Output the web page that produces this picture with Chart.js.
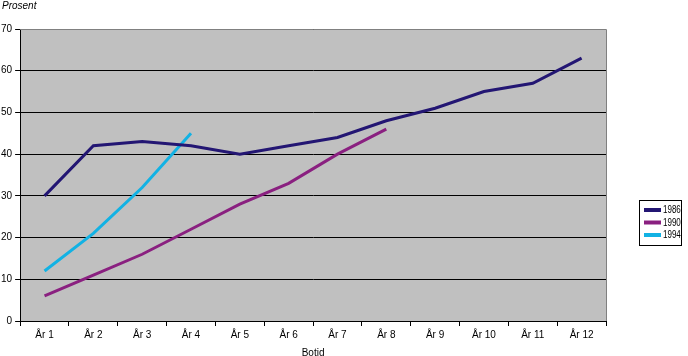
<!DOCTYPE html>
<html>
<head>
<meta charset="utf-8">
<script src="https://cdn.jsdelivr.net/npm/chart.js@4/dist/chart.umd.min.js"></script>
<style>
html,body{margin:0;padding:0;background:#fff;}
#wrap{width:688px;height:356px;position:relative;}
</style>
</head>
<body>
<div id="wrap"><canvas id="c" width="688" height="356"></canvas></div>
<script>
const categories = ["År 1","År 2","År 3","År 4","År 5","År 6","År 7","År 8","År 9","År 10","År 11","År 12"];
const s1986 = [30,42,43,42,40,42,44,48,51,55,57,63];
const s1990 = [6,11,16,22,28,33,40,46,null,null,null,null];
const s1994 = [12,21,32,45,null,null,null,null,null,null,null,null];
const seriesLabels = ["1986","1990","1994"];
const seriesColors = ["#231673","#8A2080","#12B2E4"];
const yTitle = "Prosent";
const xTitle = "Botid";

const FONT = "'Liberation Sans', Arial, sans-serif";

const decor = {
  id: 'decor',
  beforeDraw(chart){
    const {ctx, chartArea:a} = chart;
    ctx.save();
    ctx.fillStyle = '#C0C0C0';
    ctx.fillRect(a.left, a.top, a.right-a.left, a.bottom-a.top);
    ctx.restore();
  },
  afterDatasetsDraw(chart){
    const {ctx, chartArea:a} = chart;
    ctx.save();
    ctx.strokeStyle = '#808080';
    ctx.lineWidth = 1;
    ctx.beginPath();
    ctx.moveTo(a.left, a.top+0.5); ctx.lineTo(a.right+0.5, a.top+0.5);
    ctx.lineTo(a.right+0.5, a.bottom);
    ctx.stroke();
    ctx.fillStyle = '#000';
    ctx.font = "italic 10px " + FONT;
    ctx.textBaseline = 'middle';
    ctx.textAlign = 'left';
    ctx.fillText(yTitle, 2, 6);
    const lx = 639, ly = 200, lw = 42, lh = 45;
    ctx.strokeStyle = '#000';
    ctx.lineWidth = 1;
    ctx.strokeRect(lx+0.5, ly+0.5, lw, lh);
    ctx.font = "10px " + FONT;
    chart.data.datasets.forEach((ds, i) => {
      const y = ly + 10 + i*12.5;
      ctx.strokeStyle = ds.borderColor;
      ctx.lineWidth = 4;
      ctx.beginPath();
      ctx.moveTo(644, y); ctx.lineTo(661, y);
      ctx.stroke();
      ctx.save();
      ctx.translate(663, y+0.5);
      ctx.scale(0.8, 1);
      ctx.fillStyle = '#000';
      ctx.fillText(ds.label, 0, 0);
      ctx.restore();
    });
    ctx.restore();
  }
};

new Chart(document.getElementById('c'), {
  type: 'line',
  data: {
    labels: categories,
    datasets: [
      {label: seriesLabels[0], data: s1986, borderColor: seriesColors[0]},
      {label: seriesLabels[1], data: s1990, borderColor: seriesColors[1]},
      {label: seriesLabels[2], data: s1994, borderColor: seriesColors[2]}
    ].map(d => Object.assign(d, {borderWidth: 3, pointRadius: 0, tension: 0, fill: false, spanGaps: false, backgroundColor: d.borderColor}))
  },
  options: {
    responsive: false,
    animation: false,
    devicePixelRatio: 1,
    layout: {padding: {top: 29, right: 82, left: -2, bottom: -3}},
    plugins: {legend: {display: false}, tooltip: {enabled: false}},
    scales: {
      x: {
        offset: true,
        grid: {offset: true, drawOnChartArea: false, drawTicks: true, tickLength: 5, color: '#000'},
        border: {color: '#000', width: 1},
        ticks: {color: '#000', font: {family: FONT, size: 10}, padding: 3, maxRotation: 0, autoSkip: false},
        title: {display: true, text: xTitle, color: '#000', font: {family: FONT, size: 10}, padding: {top: 3, bottom: 0}}
      },
      y: {
        min: 0, max: 70,
        ticks: {stepSize: 10, color: '#000', font: {family: FONT, size: 10}, padding: 3},
        grid: {color: '#000', tickLength: 5, lineWidth: 1},
        border: {color: '#000', width: 1}
      }
    }
  },
  plugins: [decor]
});
</script>
</body>
</html>
